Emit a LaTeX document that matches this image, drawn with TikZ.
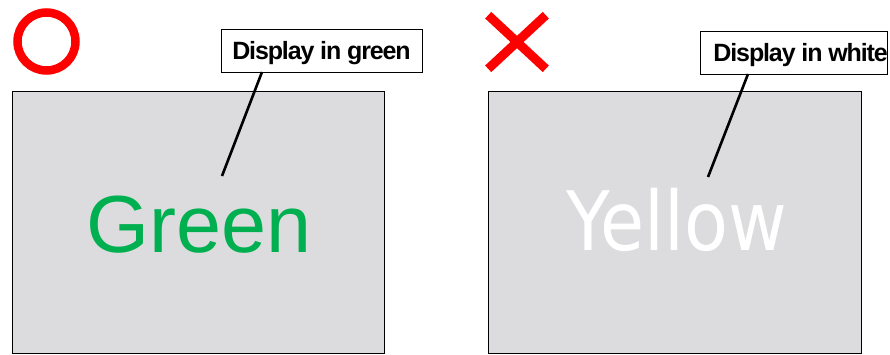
\documentclass[tikz,border=0pt]{standalone}
\usepackage{fontspec}
\setmainfont{Liberation Sans}
\newfontfamily\labfont[LetterSpace=-4.5]{Liberation Sans Bold}
\newfontfamily\dvfont{DejaVu Sans}
\definecolor{panelgray}{RGB}{220,220,222}
\definecolor{okgreen}{RGB}{0,176,80}
\definecolor{markred}{RGB}{255,0,0}
\begin{document}
\begin{tikzpicture}[x=1pt,y=-1pt,
  panel/.style={draw=black,line width=1pt,fill=panelgray},
  callout/.style={draw=black,line width=0.9pt,fill=white,inner ysep=0pt,minimum height=43pt,text height=18pt,text depth=0pt},
  labtext/.style={font=\labfont\fontsize{25}{25}\selectfont},
  leader/.style={line width=2.6pt,draw=black}]
\useasboundingbox (0,0) rectangle (890,354);
\clip (0,0) rectangle (890,354);
% panels
\draw[panel] (12,91) rectangle (384,353);
\draw[panel] (488,91) rectangle (861,353);
% marks
\draw[markred,line width=8.5pt] (46.5,41.5) circle[radius=29];
\draw[markred,line width=9pt] (488.2,15.2) -- (545.8,68.8);
\draw[markred,line width=9pt] (545.8,15.2) -- (488.2,68.8);
% big words
\node[anchor=base,inner sep=0pt,text=okgreen,font=\fontsize{81}{81}\selectfont] (green) at (199,252) {Green};
\node[anchor=base,inner sep=0pt,text=white,font=\dvfont\fontsize{82}{82}\selectfont] (yellow) at (676.5,250) {\scalebox{0.875}[1]{Yellow}};
% callouts
\node[callout,labtext,inner xsep=0pt,minimum width=201pt] (labL) at (321.5,50.5) {Display in green};
\node[callout,labtext,anchor=west,inner xsep=0pt] (labR) at (700,52.5) {\hspace{13pt}Display in white\hspace{20pt}};
\coordinate (tL) at (262,72);
\coordinate (eL) at (222,176);
\coordinate (tR) at (748,74);
\coordinate (eR) at (708,177);
\draw[leader] (tL) -- (eL);
\draw[leader] (tR) -- (eR);
\end{tikzpicture}
\end{document}
